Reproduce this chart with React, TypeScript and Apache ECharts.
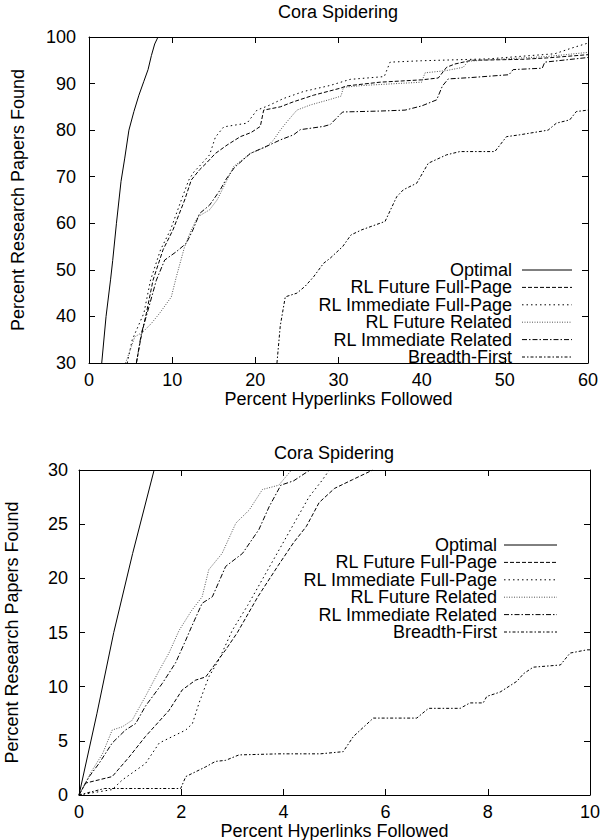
import React, { useEffect, useRef } from "react";
import * as echarts from "echarts";

const FONT = "'Liberation Sans', Arial, Helvetica, sans-serif";

const seriesNames = [
  "Optimal",
  "RL Future Full-Page",
  "RL Immediate Full-Page",
  "RL Future Related",
  "RL Immediate Related",
  "Breadth-First",
];

const titleText = "Cora Spidering";
const xAxisName = "Percent Hyperlinks Followed";
const yAxisName = "Percent Research Papers Found";

// ---- Top chart (0..60 %, 30..100 %) ----
const optimalA = [[1.53,30],[2.05,40],[2.6,48],[2.85,52],[3.3,60],[3.85,69],[4.3,74],[4.8,80],[5.4,84],[6.0,87.5],[6.6,90.5],[7.1,93],[7.5,96],[7.9,98.5],[8.3,100]];
const futureFullA = [[5.7,30],[6.2,35],[6.9,40.7],[7.7,47.8],[8.9,54.3],[10.1,58.6],[11.5,65],[12.3,69.3],[13.3,71.5],[14.1,72.9],[15.2,75],[16.6,76.8],[18.2,78.6],[19.5,79.5],[20.6,80.8],[21,84.3],[23,85],[24.6,86.1],[27,87.5],[30.2,89],[31,89.5],[35,90.3],[40,90.8],[42,91.2],[43,93.5],[44,94.2],[46,95],[52,95.2],[55,95.5],[60,96.2]];
const immFullA = [[4.6,30],[5.2,35],[6.6,40.7],[7.4,47.8],[8.6,54.3],[9.8,58.6],[11.1,65],[12.0,69.3],[12.6,71],[13.4,72.5],[14.5,74.7],[15.2,78.5],[16.2,80.7],[19.0,81.5],[20.2,84.3],[21.5,85.2],[23.4,86.8],[25.8,88.3],[29,89.6],[31.4,90.9],[35.5,91.5],[36.2,94.6],[40,94.9],[48,95.3],[53,96],[56,96.4],[58,97.6],[60,98.7]];
const futureRelA = [[4.4,30],[5.5,35.6],[6.5,36.7],[7.5,38.5],[8.5,40.7],[9.9,44.2],[10.5,48.5],[11.5,55],[12.3,58.6],[13.1,61.4],[14.5,62.9],[15.4,65],[16.4,68.6],[17.4,72.2],[19.4,75],[21.4,76.5],[22.2,77.9],[23.0,80],[23.8,81.8],[25,84.3],[26.6,85.4],[29,86.6],[30.3,87.3],[30.6,89.2],[33,89.6],[40,90.3],[40.4,92.3],[43,92.8],[45,93.5],[45.6,94.8],[50,95.3],[55,95.8],[60,96.7]];
const immRelA = [[5.7,30],[6.3,36.4],[7.2,42],[8.1,47.8],[9.1,52.1],[10.5,53.9],[11.7,55.7],[12.5,58.6],[13.3,62.1],[14.5,63.9],[15.75,67.1],[16.5,69.5],[17.5,72],[19.4,75],[21.8,76.9],[23,77.9],[24.6,79],[25.4,80.1],[28.2,80.8],[29,81.2],[30.5,83.9],[35,84.1],[38,84.3],[40,85.2],[41.8,86.5],[42.5,89.5],[43.2,91],[46,91.3],[50.5,91.9],[51,93],[54.5,93.3],[54.8,94.6],[60,95.6]];
const breadthA = [[22.6,30],[23.0,38],[23.6,44.2],[25,45],[26,46.5],[27,48.5],[28.2,51.4],[29,52.5],[30.5,55],[31.5,57.5],[32.8,58.6],[35.6,60.4],[37,65.7],[37.8,67.2],[39.4,68.6],[40.8,72.9],[43,74.7],[44.6,75.4],[48.8,75.4],[50.2,78.6],[51.8,79],[55.2,80],[56.2,81.5],[57.8,82.2],[58.6,84],[60,84.3]];

// ---- Bottom chart (0..10 %, 0..30 %) ----
const optimalB = [[0,0],[0.35,7.5],[0.68,15],[1.05,22.3],[1.47,30]];
const futureFullB = [[0,0],[0.13,1.1],[0.65,1.7],[0.98,3.5],[1.3,5.4],[1.76,7.8],[2.02,9.7],[2.28,10.6],[2.48,10.9],[2.87,13.4],[3.1,15],[3.5,18.3],[3.9,21.2],[4.2,23.3],[4.45,24.8],[4.7,27],[5.0,28.3],[5.35,29.1],[5.75,30]];
const immFullB = [[0,0],[0.65,0.5],[0.85,1.4],[1.3,2.9],[1.57,4.8],[1.83,5.4],[2.09,6],[2.22,6.6],[2.35,8.5],[2.54,10.9],[2.74,12.5],[3.0,15.2],[3.3,17.5],[3.6,20],[3.9,22.5],[4.2,25],[4.5,27.5],[4.75,29],[4.9,30]];
const futureRelB = [[0,0],[0.26,2.3],[0.46,3.8],[0.65,6],[0.85,6.3],[1.04,6.9],[1.3,9.1],[1.57,11.5],[1.76,13.1],[1.96,15.2],[2.2,17],[2.41,18.3],[2.54,20.8],[2.8,22.3],[3.07,25.1],[3.33,26.3],[3.59,28.2],[3.91,28.6],[4.16,30]];
const immRelB = [[0,0],[0.2,1.7],[0.39,2.9],[0.65,4.8],[0.91,6],[1.11,6.6],[1.3,8.2],[1.63,10.3],[1.89,12.2],[2.09,14.3],[2.2,15.5],[2.41,17.7],[2.61,18.3],[2.87,21.1],[3.2,22.3],[3.52,24.5],[3.72,26.6],[3.95,28.6],[4.2,29],[4.52,30]];
const breadthB = [[0,0],[0.5,0.6],[1.99,0.6],[2.09,1.7],[2.35,2.3],[2.48,2.6],[2.67,3.1],[2.87,3.2],[3.13,3.7],[3.91,3.8],[4.72,3.8],[5.17,4.0],[5.37,5.4],[5.76,7.1],[6.61,7.1],[6.84,8.0],[7.46,8.0],[7.65,8.5],[7.91,8.5],[7.98,9.1],[8.24,9.5],[8.57,10.5],[8.7,11.2],[8.89,11.8],[9.42,12.0],[9.61,13.1],[9.94,13.4],[10,13.4]];

const topData = [optimalA, futureFullA, immFullA, futureRelA, immRelA, breadthA];
const bottomData = [optimalB, futureFullB, immFullB, futureRelB, immRelB, breadthB];

const lineStyles: any[] = [
  { color: "#000", dash: null },
  { color: "#000", dash: [4, 2] },
  { color: "#000", dash: [1.5, 3] },
  { color: "#555", dash: [1, 1.5] },
  { color: "#000", dash: [5, 2, 1.5, 2] },
  { color: "#000", dash: [3, 2, 1.5, 2] },
];

function axisBase(extra: any) {
  return {
    type: "value",
    splitLine: { show: false },
    axisLine: { show: true, onZero: false, lineStyle: { color: "#000", width: 1 } },
    axisTick: { show: true, inside: true, length: 6, lineStyle: { color: "#000", width: 1 } },
    axisLabel: { show: true, fontSize: 18, color: "#000", fontFamily: FONT, showMinLabel: true, showMaxLabel: true },
    ...extra,
  };
}

export default function App() {
  const ref = useRef<HTMLDivElement>(null);
  useEffect(() => {
    if (!ref.current) return;
    const chart = echarts.init(ref.current, null, { renderer: "svg" });

    const grids = [
      { left: 89, top: 37, width: 499, height: 326, outerBoundsMode: "none", containLabel: false },
      { left: 79, top: 470, width: 511, height: 325, outerBoundsMode: "none", containLabel: false },
    ];
    const xs = [
      { min: 0, max: 60, interval: 10, labelMargin: 8, nameGap: 27 },
      { min: 0, max: 10, interval: 2, labelMargin: 8, nameGap: 25 },
    ];
    const ys = [
      { min: 30, max: 100, interval: 10, labelMargin: 13, nameGap: 62 },
      { min: 0, max: 30, interval: 5, labelMargin: 11, nameGap: 58 },
    ];

    const xAxis: any[] = [];
    const yAxis: any[] = [];
    for (let g = 0; g < 2; g++) {
      xAxis.push(
        axisBase({
          gridIndex: g, position: "bottom", min: xs[g].min, max: xs[g].max, interval: xs[g].interval,
          name: xAxisName, nameLocation: "middle", nameGap: xs[g].nameGap,
          nameTextStyle: { fontSize: 18, color: "#000", fontFamily: FONT },
          axisLabel: { show: true, fontSize: 18, color: "#000", fontFamily: FONT, margin: xs[g].labelMargin, showMinLabel: true, showMaxLabel: true },
        })
      );
      xAxis.push(
        axisBase({
          gridIndex: g, position: "top", min: xs[g].min, max: xs[g].max, interval: xs[g].interval,
          axisLabel: { show: false },
        })
      );
      yAxis.push(
        axisBase({
          gridIndex: g, position: "left", min: ys[g].min, max: ys[g].max, interval: ys[g].interval,
          name: yAxisName, nameLocation: "middle", nameGap: ys[g].nameGap,
          nameTextStyle: { fontSize: 18, color: "#000", fontFamily: FONT },
          axisLabel: { show: true, fontSize: 18, color: "#000", fontFamily: FONT, margin: ys[g].labelMargin, showMinLabel: true, showMaxLabel: true },
        })
      );
      yAxis.push(
        axisBase({
          gridIndex: g, position: "right", min: ys[g].min, max: ys[g].max, interval: ys[g].interval,
          axisLabel: { show: false },
        })
      );
    }

    const series: any[] = [];
    [topData, bottomData].forEach((set, g) => {
      set.forEach((data, i) => {
        const st = lineStyles[i];
        series.push({
          type: "line",
          name: seriesNames[i],
          data,
          xAxisIndex: g * 2,
          yAxisIndex: g * 2,
          symbol: "none",
          showSymbol: false,
          silent: true,
          clip: true,
          lineStyle: { color: st.color, width: 1, type: st.dash ? st.dash : "solid" },
          itemStyle: { color: st.color },
        });
      });
    });

    // Key (legend) drawn as text + sample line, as in the original plot
    const keyCfg = [
      { textRight: 512, x1: 522, x2: 572, first: 270, step: 17.4 },
      { textRight: 497, x1: 504, x2: 557, first: 545, step: 17.4 },
    ];
    const graphic: any[] = [
      { type: "text", x: 338, y: 12, style: { text: titleText, fontSize: 18, fontFamily: FONT, fill: "#000", textAlign: "center", textVerticalAlign: "middle", align: "center", verticalAlign: "middle" } },
      { type: "text", x: 334, y: 453, style: { text: titleText, fontSize: 18, fontFamily: FONT, fill: "#000", textAlign: "center", textVerticalAlign: "middle", align: "center", verticalAlign: "middle" } },
    ];
    keyCfg.forEach((c) => {
      seriesNames.forEach((n, i) => {
        const y = c.first + i * c.step;
        const st = lineStyles[i];
        graphic.push({
          type: "text", x: c.textRight, y,
          style: { text: n, fontSize: 18, lineHeight: 17, fontFamily: FONT, fill: "#000", textAlign: "right", textVerticalAlign: "middle", align: "right", verticalAlign: "middle" },
        });
        graphic.push({
          type: "line",
          shape: { x1: c.x1, y1: y, x2: c.x2, y2: y },
          style: { stroke: st.color, lineWidth: 1, lineDash: st.dash || undefined },
        });
      });
    });

    chart.setOption({
      animation: false,
      backgroundColor: "#fff",
      grid: grids,
      xAxis,
      yAxis,
      series,
      graphic,
    });
    return () => chart.dispose();
  }, []);
  return <div ref={ref} style={{ position: "absolute", left: 0, top: 0, width: 600, height: 840 }} />;
}
